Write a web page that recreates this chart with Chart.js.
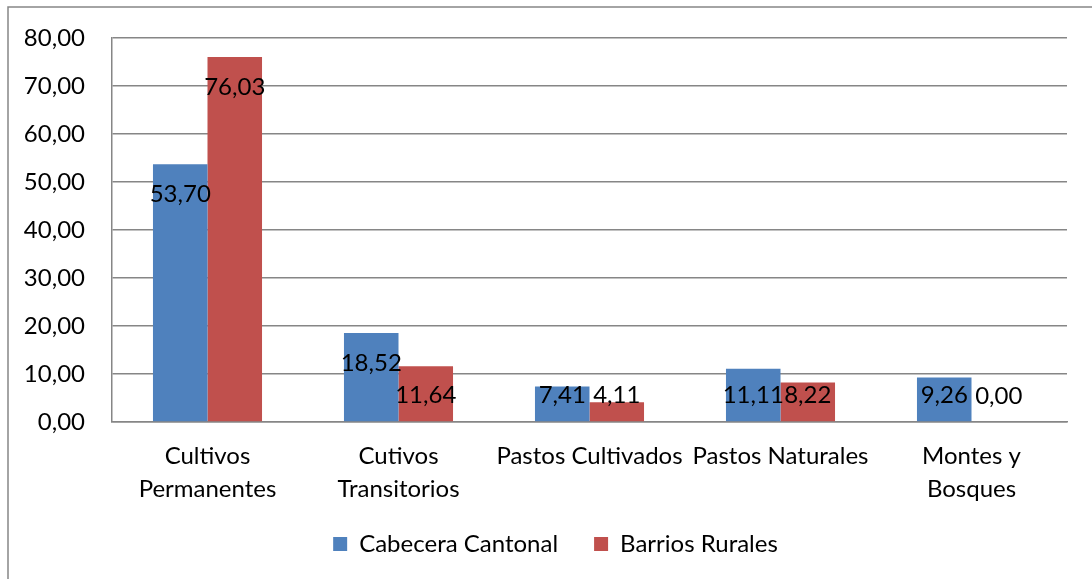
<!DOCTYPE html>
<html>
<head>
<meta charset="utf-8">
<script src="https://cdn.jsdelivr.net/npm/chart.js@4/dist/chart.umd.min.js"></script>
<style>
  html, body { margin: 0; padding: 0; background: #fff; }
  #wrap { width: 1092px; height: 579px; position: relative; }
</style>
</head>
<body>
<div id="wrap"><canvas id="c" width="1092" height="579"></canvas></div>
<script>
const categories = [
  ["Cultivos", "Permanentes"],
  ["Cutivos", "Transitorios"],
  "Pastos Cultivados",
  "Pastos Naturales",
  ["Montes y", "Bosques"]
];
const seriesNames = ["Cabecera Cantonal", "Barrios Rurales"];
const cabeceraCantonal = [53.70, 18.52, 7.41, 11.11, 9.26];
const barriosRurales = [76.03, 11.64, 4.11, 8.22, 0.00];
const yTicksMin = 0, yTicksMax = 80, yTicksStep = 10;

const FONT = "Lato, 'Open Sans', sans-serif";
const FS = 24;
const fmt = v => Number(v).toFixed(2).replace('.', ',');

const frame = {
  id: 'frame',
  beforeDraw(chart) {
    const ctx = chart.ctx;
    ctx.save();
    ctx.fillStyle = '#fff';
    ctx.fillRect(0, 0, chart.width, chart.height);
    ctx.strokeStyle = '#868686';
    ctx.lineWidth = 1.5;
    ctx.beginPath();
    ctx.moveTo(8, chart.height + 2);
    ctx.lineTo(8, 7);
    ctx.lineTo(chart.width + 2, 7);
    ctx.stroke();
    ctx.restore();
  }
};

const legendShift = {
  id: 'legendShift',
  afterLayout(chart) {
    const l = chart.legend;
    if (l) {
      l.left += 22; l.right += 22;
      l.top -= 28; l.bottom -= 28;
    }
  }
};

const valueLabels = {
  id: 'valueLabels',
  afterDatasetsDraw(chart) {
    const ctx = chart.ctx;
    ctx.save();
    ctx.font = FS + "px " + FONT;
    ctx.fillStyle = '#000';
    ctx.textAlign = 'center';
    ctx.textBaseline = 'middle';
    chart.data.datasets.forEach((ds, di) => {
      const meta = chart.getDatasetMeta(di);
      meta.data.forEach((el, i) => {
        const y = Math.min(el.y + 30, el.base - 26);
        ctx.fillText(fmt(ds.data[i]), el.x, y);
      });
    });
    ctx.restore();
  }
};

new Chart(document.getElementById('c'), {
  type: 'bar',
  data: {
    labels: categories,
    datasets: [
      { label: seriesNames[0], data: cabeceraCantonal, backgroundColor: '#4F81BD',
        categoryPercentage: 0.571, barPercentage: 1.0 },
      { label: seriesNames[1], data: barriosRurales, backgroundColor: '#C0504D',
        categoryPercentage: 0.571, barPercentage: 1.0 }
    ]
  },
  options: {
    responsive: false,
    animation: false,
    devicePixelRatio: 1,
    layout: { padding: { left: 0, right: 25, top: 38, bottom: -15 } },
    plugins: {
      legend: {
        position: 'bottom',
        labels: {
          font: { family: FONT, size: FS },
          color: '#000',
          boxWidth: 14,
          boxHeight: 14,
          padding: 36
        }
      },
      tooltip: { enabled: false }
    },
    scales: {
      x: {
        grid: { display: false, drawTicks: false },
        border: { display: true, color: '#868686', width: 1.5 },
        ticks: {
          font: { family: FONT, size: FS, lineHeight: 1.375 },
          color: '#000',
          autoSkip: false,
          maxRotation: 0,
          minRotation: 0,
          padding: 18
        }
      },
      y: {
        min: yTicksMin,
        max: yTicksMax,
        afterFit(s) { s.width = 112; s.paddingTop = 0; s.paddingBottom = 0; },
        grid: { color: '#868686', lineWidth: 1.5, drawTicks: false },
        border: { display: true, color: '#868686', width: 1.5 },
        ticks: {
          stepSize: yTicksStep,
          font: { family: FONT, size: FS },
          color: '#000',
          padding: 27,
          callback: v => fmt(v)
        }
      }
    }
  },
  plugins: [frame, legendShift, valueLabels]
});
</script>
</body>
</html>
